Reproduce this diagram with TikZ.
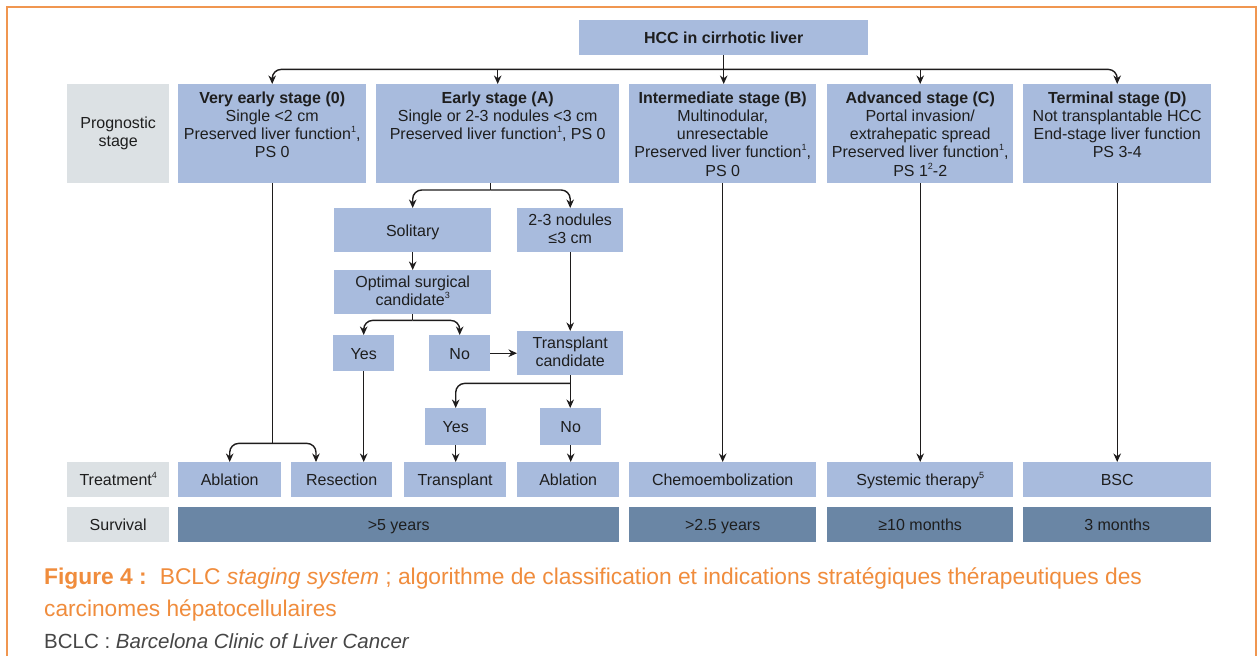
\documentclass[tikz,border=0pt]{standalone}
\usepackage{fontspec}
\setmainfont{Liberation Sans}
\usetikzlibrary{arrows.meta,calc}
\definecolor{lb}{RGB}{168,187,221}
\definecolor{gr}{RGB}{220,225,228}
\definecolor{db}{RGB}{106,134,165}
\definecolor{og}{RGB}{240,140,60}
\definecolor{fr}{RGB}{240,150,80}
\definecolor{tx}{RGB}{30,30,30}
\definecolor{ln}{RGB}{30,28,28}
\definecolor{cg}{RGB}{70,70,70}
\newcommand\sups[1]{\raisebox{0.45em}{\fontsize{9}{9}\selectfont #1}}
\newcommand\bstrut{\rule[-3pt]{0pt}{18pt}}
\begin{document}
\begin{tikzpicture}[x=1pt,y=-1pt,
 bx/.style={draw=none, inner sep=0pt, anchor=north west, text=tx, align=center, font=\fontsize{16}{18}\selectfont, execute at begin node=\bstrut, execute at end node=\bstrut},
 bbox/.style={bx, fill=lb}, gbox/.style={bx, fill=gr}, dbox/.style={bx, fill=db},
 stt/.style={anchor=north, inner sep=0pt, align=center, text=tx, font=\fontsize{16}{18.3}\selectfont},
 cline/.style={draw=ln, line width=1.4pt},
 arr/.style={cline, -{Stealth[length=8.5pt,width=7.5pt]}},
 rc/.style={rounded corners=9pt},
 capt/.style={anchor=base west, inner sep=0pt}]
\fill[white] (0,0) rectangle (1258,656);
\useasboundingbox (0,0) rectangle (1258,656);
\draw[fr, line width=1.5pt] (7,656) -- (7,7) -- (1256,7) -- (1256,656);

% top
\node[bbox, minimum width=289, minimum height=35] (hcc) at (579,20) {\textbf{HCC in cirrhotic liver}};

% stage row
\node[gbox, minimum width=102, minimum height=99] (pl) at (67,84) {Prognostic\\stage};
\node[bbox, minimum width=188, minimum height=99] (ve) at (178,84) {};
\node[bbox, minimum width=243, minimum height=99] (ea) at (376,84) {};
\node[bbox, minimum width=187, minimum height=99] (im) at (629,84) {};
\node[bbox, minimum width=186, minimum height=99] (ad) at (827,84) {};
\node[bbox, minimum width=188, minimum height=99] (td) at (1023,84) {};
\node[stt] (vet) at ($(ve.north)+(0,6)$) {\strut\textbf{Very early stage (0)}\\Single <2 cm\\Preserved liver function\sups{1},\\PS 0};
\node[stt] (eat) at ($(ea.north)+(0,6)$) {\strut\textbf{Early stage (A)}\\Single or 2-3 nodules <3 cm\\Preserved liver function\sups{1}, PS 0};
\node[stt] (imt) at ($(im.north)+(0,6)$) {\strut\textbf{Intermediate stage (B)}\\Multinodular,\\unresectable\\Preserved liver function\sups{1},\\PS 0};
\node[stt] (adt) at ($(ad.north)+(0,6)$) {\strut\textbf{Advanced stage (C)}\\Portal invasion/\\extrahepatic spread\\Preserved liver function\sups{1},\\PS 1\sups{2}-2};
\node[stt] (tdt) at ($(td.north)+(0,6)$) {\strut\textbf{Terminal stage (D)}\\Not transplantable HCC\\End-stage liver function\\PS 3-4};

% middle
\node[bbox, minimum width=157, minimum height=44] (sol) at (334,208) {Solitary};
\node[bbox, minimum width=106, minimum height=44] (n23) at (517,208) {2-3 nodules\\≤3 cm};
\node[bbox, minimum width=157, minimum height=44] (opt) at (334,270) {Optimal surgical\\candidate\sups{3}};
\node[bbox, minimum width=61, minimum height=36] (yes1) at (333,335) {Yes};
\node[bbox, minimum width=61, minimum height=36] (no1) at (429,335) {No};
\node[bbox, minimum width=106, minimum height=44] (tc) at (517,331) {Transplant\\candidate};
\node[bbox, minimum width=61, minimum height=37] (yes2) at (425,408) {Yes};
\node[bbox, minimum width=61, minimum height=37] (no2) at (540,408) {No};

% treatment row
\node[gbox, minimum width=102, minimum height=35] (trl) at (67,462) {Treatment\sups{4}};
\node[bbox, minimum width=103, minimum height=35] (abl1) at (178,462) {Ablation};
\node[bbox, minimum width=101, minimum height=35] (res) at (291,462) {Resection};
\node[bbox, minimum width=102, minimum height=35] (tr) at (404,462) {Transplant};
\node[bbox, minimum width=102, minimum height=35] (abl2) at (517,462) {Ablation};
\node[bbox, minimum width=187, minimum height=35] (che) at (629,462) {Chemoembolization};
\node[bbox, minimum width=186, minimum height=35] (sys) at (827,462) {Systemic therapy\sups{5}};
\node[bbox, minimum width=188, minimum height=35] (bsc) at (1023,462) {BSC};

% survival row
\node[gbox, minimum width=102, minimum height=35] (svl) at (67,507) {Survival};
\node[dbox, minimum width=441, minimum height=35] (s1) at (178,507) {>5 years};
\node[dbox, minimum width=187, minimum height=35] (s2) at (629,507) {>2.5 years};
\node[dbox, minimum width=186, minimum height=35] (s3) at (827,507) {≥10 months};
\node[dbox, minimum width=188, minimum height=35] (s4) at (1023,507) {3 months};

% connectors top
\coordinate (j0) at ($(hcc.south)+(0,14)$);
\draw[arr] (hcc.south) -- (hcc.south |- im.north);
\draw[arr,rc] (j0) -| (ve.north);
\draw[arr,rc] (j0) -| (td.north);
\draw[arr] (j0 -| ea.north) -- (ea.north);
\draw[arr] (j0 -| ad.north) -- (ad.north);

% early branch
\coordinate (j1) at (490.5,190);
\draw[cline] (j1 |- ea.south) -- (j1);
\draw[arr,rc] (j1) -| (sol.north);
\draw[arr,rc] (j1) -| (n23.north);
\draw[arr] (sol) -- (opt);
\coordinate (j2) at ($(opt.south)+(0,6)$);
\draw[cline] (opt.south) -- (j2);
\draw[arr,rc] (j2) -| (yes1.north);
\draw[arr,rc] (j2) -| (no1.north);
\draw[arr] (no1) -- (tc);
\draw[arr] (n23) -- (tc);
\coordinate (j3) at ($(tc.south)+(0,8)$);
\draw[cline] (tc.south) -- (j3);
\draw[arr,rc] (j3) -| (yes2.north);
\draw[arr] (tc.south) -- (tc.south |- no2.north);
\draw[arr] (yes2.south) -- (yes2.south |- tr.north);
\draw[arr] (no2.south) -- (no2.south |- abl2.north);
\draw[arr] (yes1.south) -- (yes1.south |- res.north);

% very early branch
\coordinate (j4) at ($(ve.south)+(0,260)$);
\coordinate (r1) at ($(res.north west)+(25,0)$);
\draw[cline] (ve.south) -- (j4);
\draw[arr,rc] (j4) -| (abl1.north);
\draw[arr,rc] (j4) -| (r1);

% other stages
\draw[arr] (im) -- (che);
\draw[arr] (ad) -- (sys);
\draw[arr] (td) -- (bsc);

% caption
\node[capt, text=og, font=\fontsize{22.8}{32}\selectfont] (cap1) at (44,584) {\textbf{Figure 4 :}\hspace{13pt}BCLC \textit{staging system} ; algorithme de classification et indications stratégiques thérapeutiques des};
\node[capt, text=og, font=\fontsize{22.7}{32}\selectfont] (cap2) at (44,616) {carcinomes hépatocellulaires};
\node[capt, text=cg, font=\fontsize{20.5}{32}\selectfont] (cap3) at (44,648) {BCLC : \textit{Barcelona Clinic of Liver Cancer}};
\end{tikzpicture}
\end{document}
